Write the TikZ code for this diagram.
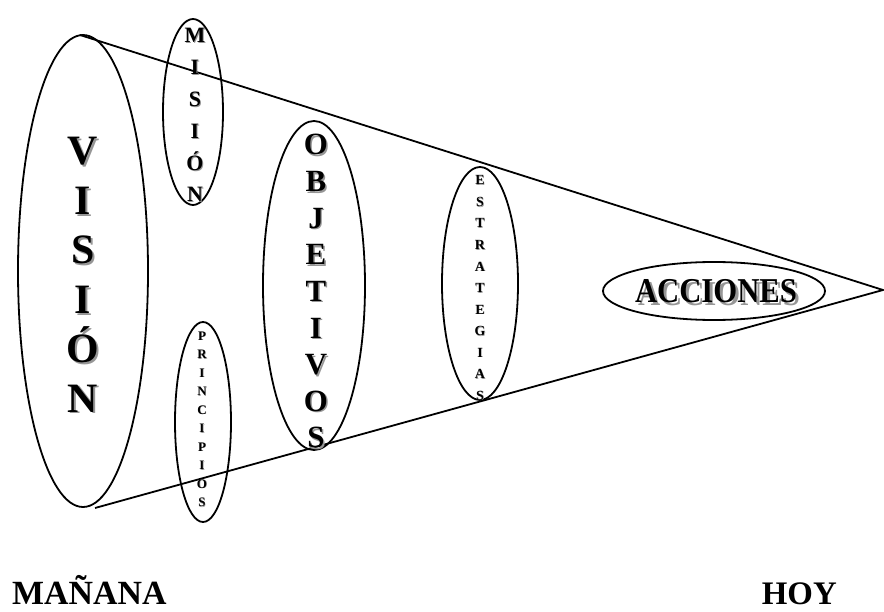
\documentclass[tikz,border=0pt]{standalone}
\usepackage{fontspec}
\setmainfont{Liberation Serif}
\usetikzlibrary{shapes.geometric,calc}
\definecolor{shade}{RGB}{150,150,150}

\tikzset{
  oval/.style={draw,ellipse,line width=1.8bp,inner sep=0pt},
  letter/.style={anchor=base,inner sep=0pt,font=\bfseries\fontsize{#1}{#1}\selectfont},
}

% name, x, first baseline, step, size, letters
\newcommand{\vstack}[6]{%
  \foreach \l [count=\i] in {#6}{
    \node[letter=#5,text=shade] (#1s\i) at (#2+#5/22,#3+\i*#4-#4+#5/22) {\l};
    \node[letter=#5] (#1\i) at (#2,#3+\i*#4-#4) {\l};
  }}

\begin{document}
\begin{tikzpicture}[x=1bp,y=-1bp]
  \useasboundingbox (0,0) rectangle (884,612);

  % cone
  \coordinate (vtop) at (80,35);
  \coordinate (vbot) at (95,508);
  \coordinate (apex) at (883,290);
  \draw[line width=1.8bp] (vtop) -- (apex) -- (vbot);

  % ovals
  \node[oval,minimum width=130bp,minimum height=472bp] (vision) at (83,271) {};
  \node[oval,minimum width=60bp,minimum height=186bp] (mision) at (193,112) {};
  \node[oval,minimum width=56bp,minimum height=200bp] (principios) at (203,422) {};
  \node[oval,minimum width=102bp,minimum height=329bp] (objetivos) at (314,285.5) {};
  \node[oval,minimum width=76bp,minimum height=233bp] (estrategias) at (480,283.5) {};
  \node[oval,minimum width=222bp,minimum height=58bp] (acciones) at (714,291) {};

  % letters
  \vstack{vis}{83}{165}{49.4}{42}{V,I,S,I,Ó,N}
  \vstack{mis}{195}{43}{31.8}{22}{M,I,S,I,Ó,N}
  \vstack{pri}{202}{340}{18.5}{13}{P,R,I,N,C,I,P,I,O,S}
  \vstack{obj}{316}{155}{36.6}{31}{O,B,J,E,T,I,V,O,S}
  \vstack{est}{480}{185}{21.5}{14}{E,S,T,R,A,T,E,G,I,A,S}

  \node[letter=35,text=shade,xscale=0.88] (accs) at (719,305) {ACCIONES};
  \node[letter=35,xscale=0.88] (acc) at (716,302) {ACCIONES};

  \node[letter=34,anchor=base west] (manana) at (12,604) {MAÑANA};
  \node[letter=33,anchor=base east] (hoy) at (837,604) {HOY};
\end{tikzpicture}
\end{document}
